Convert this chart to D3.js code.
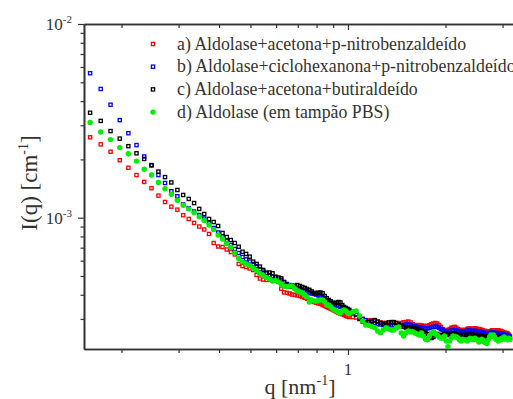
<!DOCTYPE html>
<html>
<head>
<meta charset="utf-8">
<script src="https://cdn.jsdelivr.net/npm/d3@7/dist/d3.min.js"></script>
<style>
  body { margin: 0; background: #fff; }
  svg { display: block; }
</style>
</head>
<body>
<svg id="chart" width="513" height="399" font-family="'Liberation Serif', 'DejaVu Serif', 'Times New Roman', serif"></svg>
<script>
// scattering vector q [nm^-1]
const q = [
  0.16, 0.1725, 0.185, 0.1975, 0.21, 0.2225, 0.235, 0.2475, 0.26, 0.2725,
  0.285, 0.2975, 0.31, 0.3225, 0.335, 0.3475, 0.36, 0.3725, 0.385, 0.3975,
  0.41, 0.4225, 0.435, 0.4475, 0.46, 0.4725, 0.485, 0.4975, 0.51, 0.5225,
  0.535, 0.5475, 0.56, 0.5725, 0.585, 0.5975, 0.61, 0.6225, 0.635, 0.6475,
  0.66, 0.6725, 0.685, 0.6975, 0.71, 0.7225, 0.735, 0.7475, 0.76, 0.7725,
  0.785, 0.7975, 0.81, 0.8225, 0.835, 0.8475, 0.86, 0.8725, 0.885, 0.8975,
  0.91, 0.9225, 0.935, 0.9475, 0.96, 0.9725, 0.985, 0.9975, 1.01,
  1.035, 1.06, 1.085, 1.11, 1.135, 1.16, 1.185, 1.21, 1.235, 1.26,
  1.285, 1.31, 1.335, 1.36, 1.385, 1.41, 1.435, 1.46, 1.485, 1.51,
  1.535, 1.56, 1.585, 1.61, 1.635, 1.66, 1.685, 1.71, 1.735, 1.76,
  1.785, 1.81, 1.835, 1.86, 1.885, 1.91, 1.935, 1.96, 1.985, 2.01,
  2.035, 2.06, 2.085, 2.11, 2.135, 2.16, 2.185, 2.21, 2.235, 2.26,
  2.285, 2.31, 2.335, 2.36, 2.385, 2.41, 2.435, 2.46, 2.485, 2.51,
  2.535, 2.56, 2.585, 2.61, 2.635, 2.66, 2.685, 2.71, 2.735, 2.76,
  2.785, 2.81, 2.835, 2.86, 2.885, 2.91, 2.935, 2.96, 2.985, 3.01,
  3.035, 3.06, 3.085, 3.11, 3.135, 3.16
];

// I(q) in units of 1e-3 cm^-1
const serieA = [
  2.60, 2.39, 2.19, 1.98, 1.81, 1.66, 1.53, 1.42, 1.30, 1.205,
  1.14, 1.10, 1.03, 0.985, 0.94, 0.90, 0.869, 0.824, 0.740, 0.710,
  0.706, 0.685, 0.665, 0.646, 0.577, 0.563, 0.556, 0.547, 0.537, 0.506,
  0.485, 0.479, 0.477, 0.479, 0.482, 0.477, 0.469, 0.430, 0.411, 0.409,
  0.406, 0.401, 0.399, 0.397, 0.394, 0.390, 0.386, 0.381, 0.376, 0.372,
  0.367, 0.364, 0.361, 0.359, 0.354, 0.350, 0.346, 0.342, 0.338, 0.334,
  0.330, 0.326, 0.322, 0.320, 0.318, 0.315, 0.311, 0.309, 0.307,
  0.307, 0.305, 0.304, 0.300, 0.296, 0.295, 0.295, 0.293, 0.289, 0.288,
  0.286, 0.286, 0.284, 0.286, 0.288, 0.286, 0.284, 0.286, 0.288, 0.289,
  0.291, 0.288, 0.282, 0.279, 0.278, 0.279, 0.278, 0.276, 0.276, 0.276,
  0.279, 0.282, 0.284, 0.286, 0.284, 0.279, 0.273, 0.266, 0.263, 0.262,
  0.263, 0.266, 0.270, 0.271, 0.273, 0.270, 0.266, 0.263, 0.263, 0.263,
  0.263, 0.263, 0.266, 0.268, 0.268, 0.266, 0.266, 0.268, 0.268, 0.266,
  0.266, 0.265, 0.263, 0.262, 0.260, 0.260, 0.258, 0.258, 0.258, 0.260,
  0.262, 0.262, 0.260, 0.260, 0.262, 0.262, 0.260, 0.260, 0.258, 0.257,
  0.254, 0.254, 0.254, 0.252, 0.249, 0.245
];
const serieB = [
  5.57, 4.62, 3.83, 3.19, 2.73, 2.37, 2.07, 1.86, 1.66, 1.51,
  1.37, 1.29, 1.17, 1.12, 1.076, 1.032, 0.99, 0.939, 0.885, 0.839,
  0.80, 0.758, 0.723, 0.689, 0.657, 0.627, 0.609, 0.594, 0.577, 0.563,
  0.543, 0.527, 0.515, 0.506, 0.497, 0.491, 0.485, 0.477, 0.463, 0.455,
  0.449, 0.444, 0.439, 0.434, 0.429, 0.424, 0.418, 0.413, 0.409, 0.406,
  0.404, 0.401, 0.397, 0.392, 0.387, 0.381, 0.374, 0.367, 0.363, 0.359,
  0.354, 0.352, 0.350, 0.346, 0.344, 0.340, 0.336, 0.332, 0.328,
  0.322, 0.315, 0.309, 0.300, 0.295, 0.291, 0.289, 0.286, 0.282, 0.281,
  0.279, 0.279, 0.279, 0.278, 0.279, 0.278, 0.279, 0.278, 0.279, 0.281,
  0.281, 0.279, 0.276, 0.274, 0.273, 0.271, 0.271, 0.270, 0.268, 0.268,
  0.270, 0.271, 0.273, 0.274, 0.273, 0.270, 0.266, 0.263, 0.260, 0.258,
  0.258, 0.260, 0.262, 0.263, 0.263, 0.262, 0.260, 0.258, 0.258, 0.258,
  0.258, 0.260, 0.260, 0.262, 0.262, 0.260, 0.260, 0.260, 0.260, 0.258,
  0.258, 0.257, 0.257, 0.255, 0.254, 0.254, 0.252, 0.252, 0.254, 0.254,
  0.255, 0.255, 0.254, 0.254, 0.254, 0.252, 0.252, 0.252, 0.251, 0.251,
  0.249, 0.248, 0.248, 0.246, 0.245, 0.242
];
const serieC = [
  3.48, 3.16, 2.80, 2.56, 2.34, 2.15, 2.01, 1.87, 1.73, 1.62,
  1.52, 1.39, 1.31, 1.25, 1.19, 1.11, 1.045, 0.985, 0.95, 0.906,
  0.834, 0.795, 0.767, 0.740, 0.708, 0.667, 0.650, 0.629, 0.593, 0.577,
  0.559, 0.537, 0.520, 0.521, 0.516, 0.496, 0.491, 0.486, 0.466, 0.450,
  0.440, 0.447, 0.444, 0.449, 0.444, 0.439, 0.434, 0.429, 0.424, 0.416,
  0.409, 0.407, 0.410, 0.411, 0.407, 0.394, 0.384, 0.376, 0.370, 0.364,
  0.361, 0.364, 0.367, 0.365, 0.354, 0.346, 0.342, 0.338, 0.334,
  0.326, 0.316, 0.300, 0.291, 0.288, 0.289, 0.293, 0.296, 0.291, 0.286,
  0.282, 0.284, 0.288, 0.289, 0.289, 0.286, 0.281, 0.276, 0.273, 0.271,
  0.271, 0.270, 0.268, 0.268, 0.266, 0.263, 0.260, 0.257, 0.254, 0.251,
  0.245, 0.239, 0.242, 0.248, 0.251, 0.248, 0.245, 0.248, 0.251, 0.249,
  0.248, 0.248, 0.251, 0.252, 0.252, 0.251, 0.248, 0.245, 0.245, 0.248,
  0.248, 0.248, 0.246, 0.248, 0.249, 0.249, 0.248, 0.248, 0.246, 0.245,
  0.245, 0.243, 0.245, 0.245, 0.243, 0.242, 0.242, 0.242, 0.243, 0.245,
  0.245, 0.243, 0.243, 0.242, 0.242, 0.240, 0.240, 0.242, 0.242, 0.240,
  0.240, 0.239, 0.239, 0.238, 0.238, 0.236
];
const serieD = [
  3.10, 2.77, 2.53, 2.30, 2.14, 1.96, 1.78, 1.66, 1.52, 1.41,
  1.32, 1.23, 1.16, 1.11, 1.06, 1.01, 0.967, 0.917, 0.869, 0.814,
  0.776, 0.736, 0.702, 0.657, 0.616, 0.591, 0.577, 0.566, 0.550, 0.534,
  0.515, 0.503, 0.491, 0.483, 0.471, 0.474, 0.466, 0.455, 0.444, 0.440,
  0.444, 0.444, 0.430, 0.418, 0.413, 0.409, 0.400, 0.390, 0.367, 0.376,
  0.372, 0.370, 0.374, 0.376, 0.376, 0.367, 0.354, 0.354, 0.346, 0.338,
  0.334, 0.330, 0.324, 0.322, 0.330, 0.334, 0.330, 0.322, 0.320,
  0.326, 0.330, 0.311, 0.293, 0.279, 0.278, 0.274, 0.270, 0.260, 0.255,
  0.263, 0.270, 0.266, 0.263, 0.263, 0.270, 0.273, 0.254, 0.245, 0.254,
  0.260, 0.257, 0.258, 0.254, 0.251, 0.248, 0.254, 0.245, 0.236, 0.234,
  0.245, 0.254, 0.258, 0.251, 0.248, 0.242, 0.239, 0.239, 0.245, 0.231,
  0.216, 0.231, 0.239, 0.245, 0.243, 0.242, 0.239, 0.234, 0.231, 0.236,
  0.234, 0.234, 0.231, 0.236, 0.239, 0.236, 0.234, 0.239, 0.236, 0.234,
  0.228, 0.231, 0.236, 0.234, 0.228, 0.226, 0.224, 0.234, 0.242, 0.248,
  0.245, 0.248, 0.242, 0.236, 0.234, 0.231, 0.234, 0.236, 0.239, 0.236,
  0.242, 0.239, 0.236, 0.234, 0.239, 0.236
];

const seriesNames = [
  "a) Aldolase+acetona+p-nitrobenzaldeído",
  "b) Aldolase+ciclohexanona+p-nitrobenzaldeído",
  "c) Aldolase+acetona+butiraldeído",
  "d) Aldolase (em tampão PBS)"
];
const seriesColors = ["#ff0000", "#0000ff", "#000000", "#00ee00"];
const seriesShapes = ["square", "square", "square", "circle"];

const xMajorTicks = [1];
const xMinorTicks = [0.2, 0.3, 0.4, 0.5, 0.6, 0.7, 0.8, 0.9, 2, 3];
const yMajorTicks = [1e-2, 1e-3];
const yMinorTicks = [3e-4, 4e-4, 5e-4, 6e-4, 7e-4, 8e-4, 9e-4,
  2e-3, 3e-3, 4e-3, 5e-3, 6e-3, 7e-3, 8e-3, 9e-3];

const svg = d3.select("#chart");
const plotLeft = 84, plotRight = 513, plotTop = 24, plotBottom = 349;

const x = d3.scaleLog().domain([0.1532, 3.231]).range([plotLeft, plotRight]);
const y = d3.scaleLog().domain([2.099e-4, 1e-2]).range([plotBottom, plotTop]);

const axisColor = "#333";
const textColor = "#333";

function styleAxis(g) {
  g.select(".domain").attr("stroke", axisColor).attr("stroke-width", 1.6);
  g.selectAll(".tick line").attr("stroke", axisColor).attr("stroke-width", 1.2);
  g.selectAll(".tick text").remove();
}

// bottom axis
svg.append("g").attr("transform", `translate(0,${plotBottom})`)
  .call(d3.axisBottom(x).tickValues(xMajorTicks).tickSize(6).tickSizeOuter(0))
  .call(styleAxis);
svg.append("g").attr("transform", `translate(0,${plotBottom})`)
  .call(d3.axisBottom(x).tickValues(xMinorTicks).tickSize(4).tickSizeOuter(0))
  .call(styleAxis);
// top axis (ticks inside)
svg.append("g").attr("transform", `translate(0,${plotTop})`)
  .call(d3.axisTop(x).tickValues(xMajorTicks).tickSize(-6).tickSizeOuter(0))
  .call(styleAxis);
svg.append("g").attr("transform", `translate(0,${plotTop})`)
  .call(d3.axisTop(x).tickValues(xMinorTicks).tickSize(-4).tickSizeOuter(0))
  .call(styleAxis);
// left axis
svg.append("g").attr("transform", `translate(${plotLeft},0)`)
  .call(d3.axisLeft(y).tickValues(yMajorTicks).tickSize(6).tickSizeOuter(0))
  .call(styleAxis);
svg.append("g").attr("transform", `translate(${plotLeft},0)`)
  .call(d3.axisLeft(y).tickValues(yMinorTicks).tickSize(3.5).tickSizeOuter(0))
  .call(styleAxis);

// tick labels
yMajorTicks.forEach(v => {
  const t = svg.append("text")
    .attr("x", 72).attr("y", y(v) + 6)
    .attr("text-anchor", "end")
    .attr("fill", textColor)
    .style("font-size", "17px");
  t.append("tspan").text("10");
  t.append("tspan").attr("dy", -7).style("font-size", "11px")
    .text("-" + Math.round(-Math.log10(v)));
});
xMajorTicks.forEach(v => {
  svg.append("text")
    .attr("x", x(v)).attr("y", 375)
    .attr("text-anchor", "middle")
    .attr("fill", textColor)
    .style("font-size", "17px")
    .text(String(v));
});

// axis titles
const yTitle = svg.append("text")
  .attr("transform", "translate(37,183) rotate(-90)")
  .attr("text-anchor", "middle")
  .attr("fill", textColor)
  .style("font-size", "23px");
yTitle.append("tspan").text("I(q) [cm");
yTitle.append("tspan").attr("dy", -9).style("font-size", "14px").text("-1");
yTitle.append("tspan").attr("dy", 9).text("]");

const xTitle = svg.append("text")
  .attr("x", 300).attr("y", 394)
  .attr("text-anchor", "middle")
  .attr("fill", textColor)
  .style("font-size", "22px");
xTitle.append("tspan").text("q [nm");
xTitle.append("tspan").attr("dy", -9).style("font-size", "14px").text("-1");
xTitle.append("tspan").attr("dy", 9).text("]");

// data
const allSeries = [serieA, serieB, serieC, serieD];

allSeries.forEach((vals, i) => {
  const pts = q.map((qq, j) => ({ q: qq, I: vals[j] * 1e-3 }));
  const g = svg.append("g");
  if (seriesShapes[i] === "square") {
    g.selectAll("rect").data(pts).enter().append("rect")
      .attr("x", d => x(d.q) - 1.6)
      .attr("y", d => y(d.I) - 1.6)
      .attr("width", 3.2).attr("height", 3.2)
      .attr("fill", "none")
      .attr("stroke", seriesColors[i])
      .attr("stroke-width", 1.3);
  } else {
    g.selectAll("circle").data(pts).enter().append("circle")
      .attr("cx", d => x(d.q))
      .attr("cy", d => y(d.I))
      .attr("r", 2.7)
      .attr("fill", seriesColors[i]);
  }
});

// legend
const legend = svg.append("g");
seriesNames.forEach((name, i) => {
  const ly = 44 + i * 22.7;
  if (seriesShapes[i] === "square") {
    legend.append("rect")
      .attr("x", 151.4).attr("y", ly - 1.6)
      .attr("width", 3.2).attr("height", 3.2)
      .attr("fill", "none")
      .attr("stroke", seriesColors[i])
      .attr("stroke-width", 1.3);
  } else {
    legend.append("circle")
      .attr("cx", 153).attr("cy", ly).attr("r", 2.7)
      .attr("fill", seriesColors[i]);
  }
  legend.append("text")
    .attr("x", 177).attr("y", ly + 5.5)
    .attr("fill", textColor)
    .style("font-size", "17.8px")
    .text(name);
});
</script>
</body>
</html>
